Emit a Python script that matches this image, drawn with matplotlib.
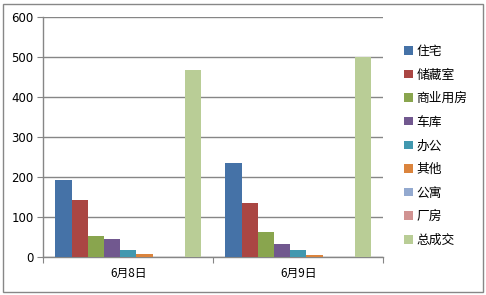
import matplotlib
matplotlib.use("Agg")
import matplotlib.pyplot as plt
from matplotlib.patches import Rectangle, Patch
import numpy as np

plt.rcParams['font.family'] = ['Noto Sans CJK SC', 'DejaVu Sans']

categories = ["6月8日", "6月9日"]
series_names = ["住宅", "储藏室", "商业用房", "车库", "办公", "其他", "公寓", "厂房", "总成交"]
series_values = [
    [194, 235],   # 住宅
    [143, 137],   # 储藏室
    [53, 64],     # 商业用房
    [46, 34],     # 车库
    [18, 18],     # 办公
    [8, 6],       # 其他
    [0, 0],       # 公寓
    [0, 0],       # 厂房
    [468, 500],   # 总成交
]
colors = ["#4572A7", "#AA4643", "#89A54E", "#71588F", "#4198AF",
          "#DB843D", "#93A9CF", "#D19392", "#B9CD96"]
y_ticks = [0, 100, 200, 300, 400, 500, 600]

W, H = 486, 295
fig = plt.figure(figsize=(W / 100, H / 100), dpi=100)
fig.patch.set_facecolor("white")

# chart border
fig.add_artist(Rectangle((2.5 / W, 3.5 / H), (482.5 - 2.5) / W, (291 - 3.5) / H,
                         transform=fig.transFigure, fill=False,
                         edgecolor="#878787", linewidth=1.0))

left, right, top, bottom = 43.3, 383.3, 17.3, 257.3
ax = fig.add_axes([left / W, (H - bottom) / H, (right - left) / W, (bottom - top) / H])

n = len(series_names)
w = 1.0 / (n + 1.5)
x = np.arange(len(categories))
for i, (name, vals, c) in enumerate(zip(series_names, series_values, colors)):
    pos = x - 0.5 + 0.75 * w + (i + 0.5) * w
    ax.bar(pos, vals, width=w, color=c, label=name, linewidth=0, zorder=3)

ax.set_xlim(-0.5, len(categories) - 0.5)
ax.set_ylim(0, 600)
ax.set_yticks(y_ticks)
ax.set_yticklabels([str(v) for v in y_ticks], fontsize=8.5, family=['DejaVu Sans'])
ax.yaxis.grid(True, color="#868686", linewidth=1.0, zorder=0)
ax.set_axisbelow(True)

# category ticks at boundaries, labels centered
ax.set_xticks(np.arange(len(categories) + 1) - 0.5)
ax.set_xticklabels([])
ax.set_xticks(x, minor=True)
ax.set_xticklabels(categories, minor=True, fontsize=8.5)
ax.tick_params(axis='x', which='minor', length=0, pad=7)
ax.tick_params(axis='x', which='major', length=4, color="#868686", direction='out')
ax.tick_params(axis='y', length=4, color="#868686", direction='out', pad=3)

for s in ["top", "right"]:
    ax.spines[s].set_visible(False)
for s in ["left", "bottom"]:
    ax.spines[s].set_color("#868686")
    ax.spines[s].set_linewidth(1.0)

handles = [Patch(facecolor=c, edgecolor='none') for c in colors]
fig.legend(handles, series_names, loc="upper left",
           bbox_to_anchor=(398 / W, 1 - 38.5 / H), frameon=False,
           fontsize=9.2, handlelength=0.65, handleheight=0.65, handletextpad=0.3,
           labelspacing=0.83, borderpad=0)

fig.savefig("out.png", dpi=100, facecolor="white")
